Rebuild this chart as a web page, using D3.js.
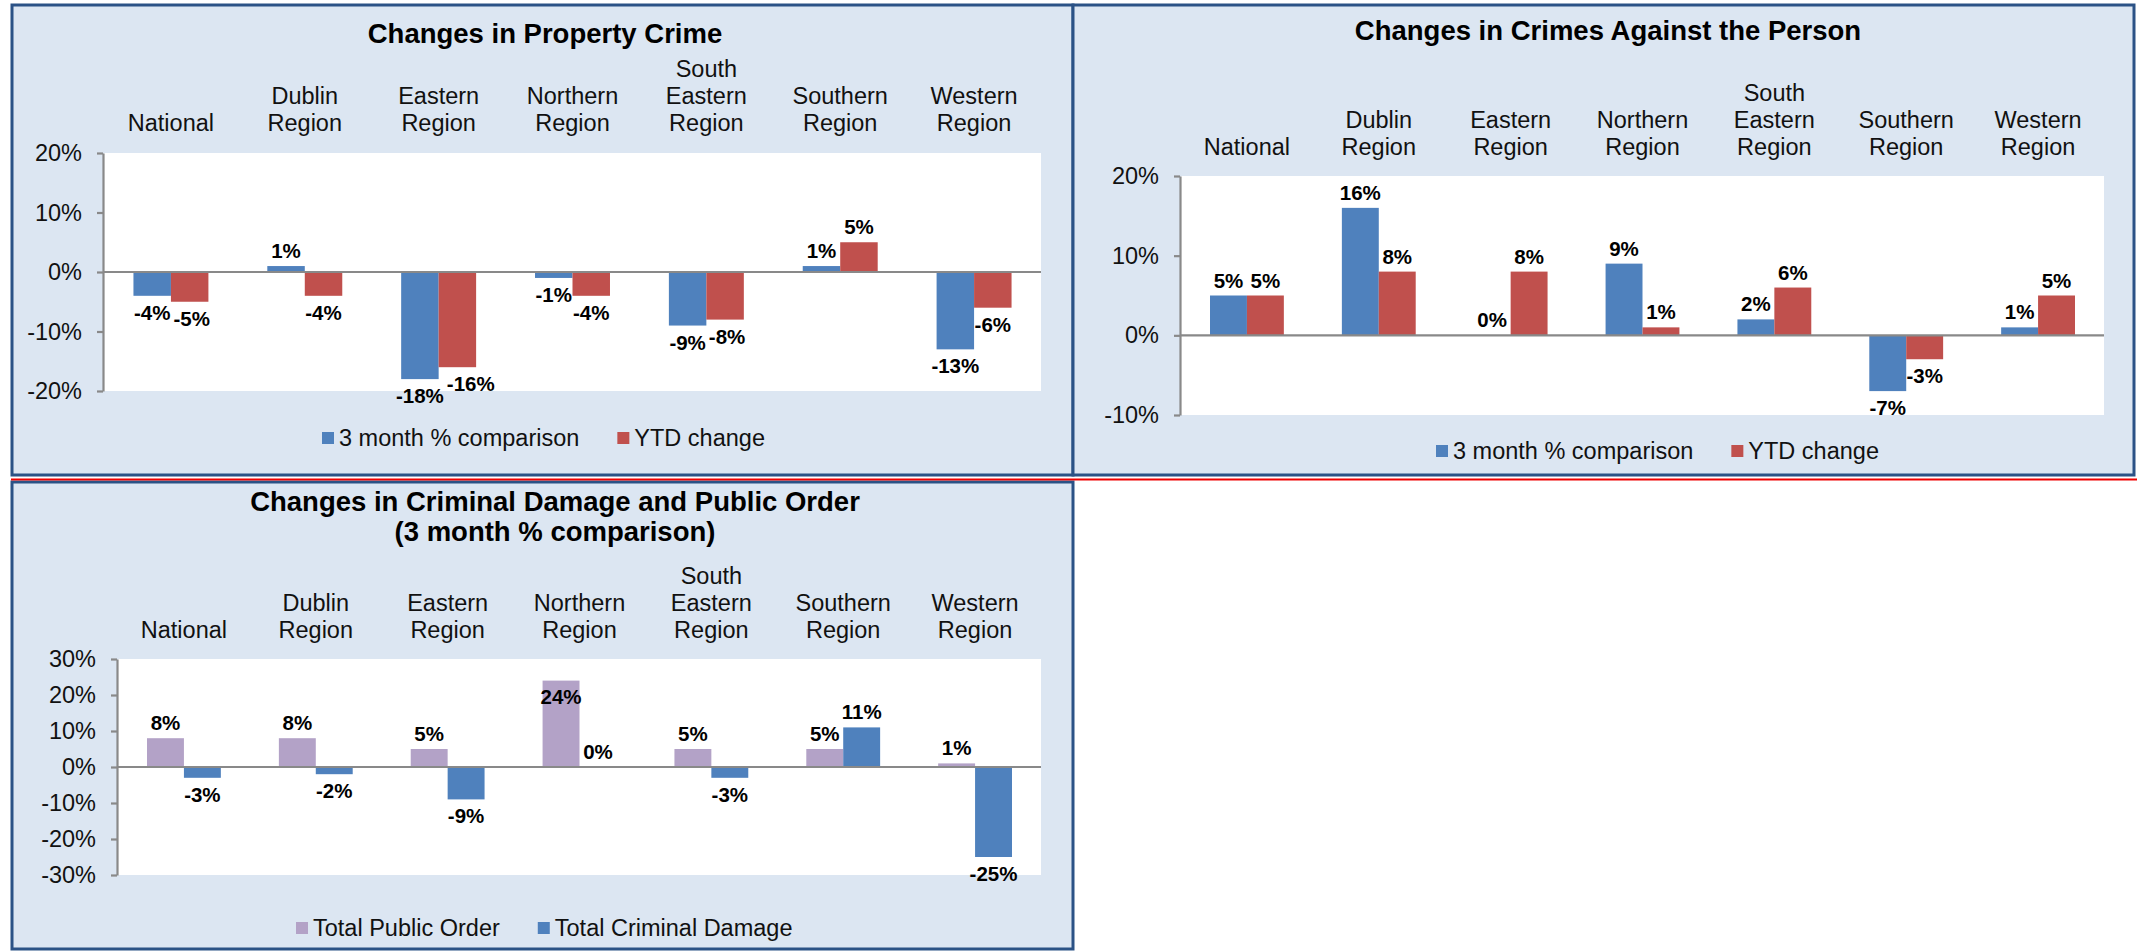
<!DOCTYPE html>
<html><head><meta charset="utf-8">
<script src="https://cdnjs.cloudflare.com/ajax/libs/d3/7.8.5/d3.min.js"></script>
<style>
html,body{margin:0;padding:0;background:#fff;overflow:hidden}
text{font-family:"Liberation Sans",Arial,sans-serif}
</style>
</head><body>
<svg id="c" width="2137" height="952"></svg>
<script>
// ---------------- DATA ----------------
const categories = ["National","Dublin Region","Eastern Region","Northern Region","South Eastern Region","Southern Region","Western Region"];

const property3Month = [-4, 1, -18, -1, -9, 1, -13];
const propertyYTD    = [-5, -4, -16, -4, -8, 5, -6];

const person3Month   = [5, 16, 0, 9, 2, -7, 1];
const personYTD      = [5, 8, 8, 1, 6, -3, 5];

const publicOrder    = [8, 8, 5, 24, 5, 5, 1];
const criminalDamage = [-3, -2, -9, 0, -3, 11, -25];

const crimeSeriesNames  = ["3 month % comparison", "YTD change"];
const damageSeriesNames = ["Total Public Order", "Total Criminal Damage"];

const ticksProperty = [-20, -10, 0, 10, 20];
const ticksPerson   = [-10, 0, 10, 20];
const ticksDamage   = [-30, -20, -10, 0, 10, 20, 30];

const titleProperty = ["Changes in Property Crime"];
const titlePerson   = ["Changes in Crimes Against the Person"];
const titleDamage   = ["Changes in Criminal Damage and Public Order", "(3 month % comparison)"];

// ---------------- LAYOUT ----------------
const BLUE = "#4f81bd", RED = "#c0504d", PURPLE = "#b3a2c7";
const PANEL_BG = "#dce6f2", PANEL_BORDER = "#2b5286", AXIS = "#898989";

const panels = [
  { box:[12,5,1073,475], title:titleProperty, titleX:545, titleY:[43],
    series:[property3Month, propertyYTD], names:crimeSeriesNames, colors:[BLUE, RED],
    ticks:ticksProperty, plot:[104,153,1041,391], catBase:131, legend:[322,432] },
  { box:[1073,5,2134,475], title:titlePerson, titleX:1608, titleY:[40],
    series:[person3Month, personYTD], names:crimeSeriesNames, colors:[BLUE, RED],
    ticks:ticksPerson, plot:[1181,176,2104,415], catBase:155, legend:[1436,445] },
  { box:[12,482,1073,949], title:titleDamage, titleX:555, titleY:[511,541],
    series:[publicOrder, criminalDamage], names:damageSeriesNames, colors:[PURPLE, BLUE],
    ticks:ticksDamage, plot:[118,659,1041,875], catBase:638, legend:[296,922] }
];

const svg = d3.select("#c");
svg.append("rect").attr("width",2137).attr("height",952).attr("fill","#fff");

function drawPanel(p){
  const g = svg.append("g");
  const [bx0,by0,bx1,by1] = p.box;
  g.append("rect").attr("x",bx0).attr("y",by0).attr("width",bx1-bx0).attr("height",by1-by0)
    .attr("fill",PANEL_BG).attr("stroke",PANEL_BORDER).attr("stroke-width",3);

  // title
  p.title.forEach((t,i)=>{
    g.append("text").attr("x",p.titleX).attr("y",p.titleY[i]).attr("text-anchor","middle")
      .attr("font-size",27.5).attr("font-weight","bold").attr("fill","#000").text(t);
  });

  const [px0,py0,px1,py1] = p.plot;
  const ext = d3.extent(p.ticks);
  const y = d3.scaleLinear().domain(ext).range([py1,py0]);
  const x = d3.scaleBand().domain(categories).range([px0,px1]).padding(0);
  const bw = x.bandwidth()*0.28;
  const sub = d3.scaleBand().domain(d3.range(p.series.length)).range([-bw, bw]).padding(0);

  g.append("rect").attr("x",px0).attr("y",py0).attr("width",px1-px0).attr("height",py1-py0).attr("fill","#fff");

  // bars
  p.series.forEach((vals,si)=>{
    g.append("g").selectAll("rect").data(vals).join("rect")
      .attr("x",(d,i)=>x(categories[i])+x.bandwidth()/2+sub(si))
      .attr("width",sub.bandwidth())
      .attr("y",d=>Math.min(y(d),y(0)))
      .attr("height",d=>Math.abs(y(d)-y(0)))
      .attr("fill",p.colors[si]);
  });

  // zero line
  g.append("line").attr("x1",px0).attr("x2",px1).attr("y1",y(0)).attr("y2",y(0))
    .attr("stroke",AXIS).attr("stroke-width",2.2);

  // y axis
  const ax = g.append("g").attr("transform",`translate(${px0-1},0)`)
    .call(d3.axisLeft(y).tickValues(p.ticks).tickFormat(d=>d+"%").tickSizeInner(6).tickSizeOuter(0).tickPadding(15));
  ax.select(".domain").attr("stroke",AXIS).attr("stroke-width",2.2);
  ax.selectAll(".tick line").attr("stroke",AXIS).attr("stroke-width",2.2);
  ax.selectAll(".tick text").attr("font-size",23.5).attr("fill","#111")
    .attr("font-family","'Liberation Sans',Arial,sans-serif");

  // category labels on top
  categories.forEach(c=>{
    const lines = c.split(" ");
    const t = g.append("text").attr("text-anchor","middle").attr("font-size",23.5).attr("fill","#111");
    lines.forEach((l,li)=>{
      t.append("tspan").attr("x",x(c)+x.bandwidth()/2)
        .attr("y",p.catBase-(lines.length-1-li)*27).text(l);
    });
  });

  // data labels (outside end; inside end if it would leave the plot top)
  const labelSel = p.series.map((vals,si)=>
    g.append("g").selectAll("text").data(vals).join("text")
      .attr("x",(d,i)=>x(categories[i])+x.bandwidth()/2+sub(si)+sub.bandwidth()/2)
      .attr("y",d=>{
        if(d>=0){
          let b = y(d)-8;
          if(b-15 < py0) b = y(d)+23;
          return b;
        }
        return y(d)+24;
      })
      .attr("text-anchor","middle").attr("font-size",20.5).attr("font-weight","bold").attr("fill","#000")
      .text(d=>d+"%")
  );
  // nudge the second label of a pair right when the two would collide
  const n0 = labelSel[0].nodes(), n1 = labelSel[1].nodes();
  n0.forEach((a,i)=>{
    const b = n1[i];
    const ba = a.getBBox(), bb = b.getBBox();
    const hOver = ba.x + ba.width - bb.x;
    const vOver = Math.abs(ba.y - bb.y) < ba.height*0.75;
    if(hOver > -2 && vOver){
      b.setAttribute("x", +b.getAttribute("x") + hOver + 3);
    }
  });

  // legend
  let lx = p.legend[0];
  const ly = p.legend[1];
  p.names.forEach((n,si)=>{
    g.append("rect").attr("x",lx).attr("y",ly).attr("width",12).attr("height",12).attr("fill",p.colors[si]);
    const t = g.append("text").attr("x",lx+17).attr("y",ly+13.5).attr("font-size",23.5).attr("fill","#111").text(n);
    lx = lx + 17 + t.node().getComputedTextLength() + 38;
  });
}

panels.forEach(drawPanel);

// red separator line
svg.append("line").attr("x1",11).attr("x2",2137).attr("y1",479.5).attr("y2",479.5)
  .attr("stroke","#f00000").attr("stroke-width",2);
</script>
</body></html>
